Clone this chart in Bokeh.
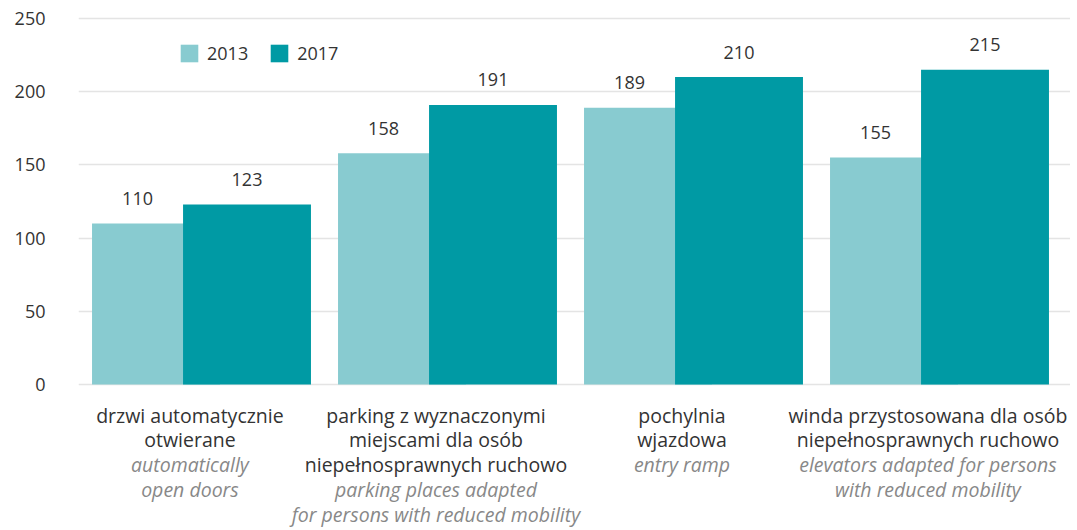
from bokeh.plotting import figure
from bokeh.models import Range1d, FixedTicker, Legend, LegendItem
from bokeh.core.properties import value
from bokeh.embed import file_html
from bokeh.resources import INLINE

# ---------------- data ----------------
labels_pl = [
    ["drzwi automatycznie", "otwierane"],
    ["parking z wyznaczonymi", "miejscami dla osób", "niepełnosprawnych ruchowo"],
    ["pochylnia", "wjazdowa"],
    ["winda przystosowana dla osób", "niepełnosprawnych ruchowo"],
]
labels_en = [
    ["automatically", "open doors"],
    ["parking places adapted", "for persons with reduced mobility"],
    ["entry ramp"],
    ["elevators adapted for persons", "with reduced mobility"],
]
years = ["2013", "2017"]
values_2013 = [110, 158, 189, 155]
values_2017 = [123, 191, 210, 215]
y_ticks = [0, 50, 100, 150, 200, 250]

# ---------------- style / layout ----------------
FONT = "Open Sans"
C13 = "#88CBD0"
C17 = "#009AA4"
TXT = "#333333"
TXT_EN = "#888888"

W, H = 1070, 530
LEFT = 78
PX_X = 246.0           # px per category
PX_Y = 1.464           # px per value unit
ZERO_PX = 384          # y=0 from canvas top
frame_w = W - LEFT
y_top = ZERO_PX / PX_Y
y_bot = -(H - ZERO_PX) / PX_Y

n = len(values_2013)
idx = list(range(n))
DODGE = 0.185
BAR_W = 0.52

p = figure(width=W, height=H, output_backend="svg", toolbar_location=None,
           x_range=Range1d(-0.5, -0.5 + frame_w / PX_X),
           y_range=Range1d(y_bot, y_top),
           x_axis_location=None, y_axis_location="left",
           min_border_left=LEFT, min_border_right=0, min_border_top=0,
           min_border_bottom=0)
p.outline_line_color = None
p.background_fill_color = "white"
p.border_fill_color = "white"
p.xgrid.visible = False
p.ygrid.ticker = FixedTicker(ticks=y_ticks)
p.ygrid.grid_line_color = "#e4e4e4"
p.ygrid.grid_line_width = 1.5

ax = p.yaxis[0]
ax.ticker = FixedTicker(ticks=y_ticks)
ax.axis_line_color = None
ax.major_tick_line_color = None
ax.minor_tick_line_color = None
ax.major_tick_out = 0
ax.major_tick_in = 0
ax.major_label_standoff = 33
ax.major_label_text_font = FONT
ax.major_label_text_font_size = "18px"
ax.major_label_text_color = TXT

r13 = p.vbar(x=[i - DODGE for i in idx], top=values_2013, width=BAR_W,
             bottom=0, fill_color=C13, line_color=None)
r17 = p.vbar(x=[i + DODGE for i in idx], top=values_2017, width=BAR_W,
             bottom=0, fill_color=C17, line_color=None)

# value labels (2013 label centred on the visible part of its bar)
lab_dy = 25 / PX_Y
vis13 = (DODGE - BAR_W / 2 - DODGE - BAR_W / 2) / 2  # centre of visible part
p.text(x=[i + vis13 for i in idx],
       y=[v + lab_dy for v in values_2013], text=[str(v) for v in values_2013],
       text_align="center", text_baseline="middle", text_font=value(FONT),
       text_font_size="18px", text_color=TXT)
p.text(x=[i + DODGE for i in idx],
       y=[v + lab_dy for v in values_2017], text=[str(v) for v in values_2017],
       text_align="center", text_baseline="middle", text_font=value(FONT),
       text_font_size="18px", text_color=TXT)

# category labels
LINE0 = 30.5
LINE_H = 24.8
X_SHIFT = -0.047
px_, py_, pt_ = [], [], []
ex_, ey_, et_ = [], [], []
for i in idx:
    k = 0
    for s in labels_pl[i]:
        px_.append(i + X_SHIFT)
        py_.append(-(LINE0 + LINE_H * k) / PX_Y)
        pt_.append(s)
        k += 1
    for s in labels_en[i]:
        ex_.append(i + X_SHIFT)
        ey_.append(-(LINE0 + LINE_H * k) / PX_Y)
        et_.append(s)
        k += 1
p.text(x=px_, y=py_, text=pt_, text_align="center", text_baseline="middle",
       text_font=value(FONT), text_font_size="19.5px", text_color=TXT)
p.text(x=ex_, y=ey_, text=et_, text_align="center", text_baseline="middle",
       text_font=value(FONT), text_font_size="19.5px", text_color=TXT_EN,
       text_font_style="italic")

legend = Legend(items=[LegendItem(label=years[0], renderers=[r13]),
                       LegendItem(label=years[1], renderers=[r17])],
                orientation="horizontal", location=(100, H - 65),
                glyph_width=22, glyph_height=22, label_height=22,
                label_standoff=7, spacing=20, padding=0, margin=0,
                border_line_color=None, background_fill_alpha=0,
                label_text_font=FONT, label_text_font_size="18px",
                label_text_color=TXT)
p.add_layout(legend)

open("out.html", "w").write(file_html(p, INLINE))
